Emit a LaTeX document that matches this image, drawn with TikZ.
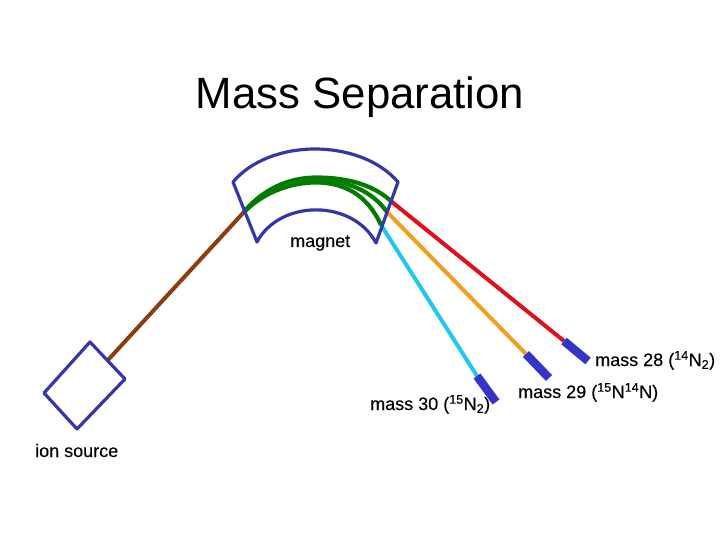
\documentclass[tikz,border=0pt]{standalone}
\usepackage{fontspec}
\setmainfont{Liberation Sans}
\newfontfamily\labfont[FakeBold=0.25]{Liberation Sans}
\definecolor{outl}{RGB}{54,54,170}
\definecolor{detc}{RGB}{52,52,200}
\definecolor{beamg}{RGB}{0,125,0}
\definecolor{beamb}{RGB}{140,60,15}
\definecolor{beamr}{RGB}{225,15,30}
\definecolor{beamo}{RGB}{240,160,30}
\definecolor{beamc}{RGB}{30,200,240}
\tikzset{
  outline/.style={draw=outl,line width=3.2pt,line join=round,line cap=round},
  beam/.style={line width=4pt},
  gbeam/.style={draw=beamg,line width=4.2pt},
  detector/.style={draw=detc,line width=8.5pt},
  lab/.style={inner sep=0pt,font=\labfont\fontsize{18}{20}\selectfont,anchor=base west}
}
\begin{document}
\begin{tikzpicture}[x=1pt,y=-1pt]
\useasboundingbox (0,0) rectangle (720,540);
\fill[white] (0,0) rectangle (720,540);
% beam coordinates
\coordinate (srcexit) at (108,360);
\coordinate (magin) at (244,212);
\coordinate (apt) at (316,177.5);
\coordinate (apm) at (316,180);
\coordinate (apl) at (316,182.5);
\coordinate (r0) at (392,202);
\coordinate (o0) at (387,212);
\coordinate (c0) at (381,225);
\coordinate (r1) at (564,341);
\coordinate (o1) at (526,354);
\coordinate (c1) at (477,376);
\coordinate (r2) at (588,361);
\coordinate (o2) at (549,378);
\coordinate (c2) at (496,402);
% straight beams
\draw[beam,draw=beamb] (srcexit) -- (magin);
\draw[beam,draw=beamr] (r0) -- (r1);
\draw[beam,draw=beamo] (o0) -- (o1);
\draw[beam,draw=beamc] (c0) -- (c1);
% curved beams in the magnet
\draw[gbeam] (magin) .. controls (262,190) and (288,177.5) .. (apt)
  .. controls (350,177.5) and (375,186) .. (r0);
\draw[gbeam] (magin) .. controls (262,192) and (288,180) .. (apm)
  .. controls (347,180) and (372,191) .. (o0);
\draw[gbeam] (magin) .. controls (262,194) and (288,182.5) .. (apl)
  .. controls (343,182.5) and (367,194) .. (c0);
% detectors
\draw[detector] (r1) -- (r2);
\draw[detector] (o1) -- (o2);
\draw[detector] (c1) -- (c2);
% magnet
\coordinate (m1) at (233,182);
\coordinate (m2) at (398,182);
\coordinate (m3) at (376,243);
\coordinate (m4) at (257,242);
\draw[outline] (m1) .. controls (270,138) and (360,138) .. (m2) -- (m3)
  .. controls (353,199) and (280,199) .. (m4) -- cycle;
% ion source
\coordinate (s1) at (90,342);
\coordinate (s2) at (125,379);
\coordinate (s3) at (77,429);
\coordinate (s4) at (44,393);
\draw[outline] (s1) -- (s2) -- (s3) -- (s4) -- cycle;
% texts
\node[inner sep=0pt,anchor=base,font=\fontsize{43.8}{50}\selectfont] (title) at (360,109) {Mass Separation};
\node[lab] (magnetlab) at (290,247) {magnet};
\node[lab] (ionlab) at (35,457) {ion source};
\node[lab] (m28) at (595,366) {mass 28 (\textsuperscript{14}N\textsubscript{2})};
\node[lab] (m29) at (518,398) {mass 29 (\textsuperscript{15}N\textsuperscript{14}N)};
\node[lab] (m30) at (370,410) {mass 30 (\textsuperscript{15}N\textsubscript{2})};
\end{tikzpicture}
\end{document}
